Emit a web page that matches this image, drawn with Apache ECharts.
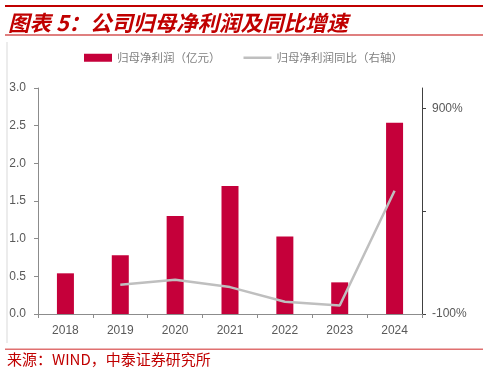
<!DOCTYPE html>
<html>
<head>
<meta charset="utf-8">
<script src="https://cdn.jsdelivr.net/npm/echarts@6/dist/echarts.min.js"></script>
<style>
html,body{margin:0;padding:0;background:#fff;}
#chart{width:488px;height:373px;}
</style>
</head>
<body>
<div id="chart"></div>
<script>
const categories = ['2018','2019','2020','2021','2022','2023','2024'];
const profit = [0.54, 0.78, 1.30, 1.70, 1.03, 0.42, 2.54];
const profitYoY = ['-', 42, 67, 31, -40, -59, 500];
const rightTicks = [-100, 400, 900];
const rightLabels = [-100, 900];
const seriesNames = ['归母净利润（亿元）', '归母净利润同比（右轴）'];
const titleText = '图表 5：公司归母净利润及同比增速';
const sourceText = '来源：WIND，中泰证券研究所';

const chart = echarts.init(document.getElementById('chart'));
const labelFont = 'Liberation Sans, Arial, sans-serif';
const cjkFont = 'Noto Sans CJK SC, sans-serif';

chart.setOption({
  animation: false,
  backgroundColor: '#fff',
  grid: { left: 38, right: 66, top: 88, bottom: 59, containLabel: false },
  legend: {
    left: 79, top: 47,
    itemWidth: 28, itemHeight: 8, itemGap: 23,
    textStyle: { color: '#808080', fontSize: 11.5, fontFamily: cjkFont },
    data: [
      { name: seriesNames[0], icon: 'rect' },
      { name: seriesNames[1], icon: 'path://M0,0 L28,0 L28,2.5 L0,2.5 Z', itemStyle: { color: '#BFBFBF' } }
    ]
  },
  xAxis: {
    type: 'category',
    data: categories,
    axisLine: { lineStyle: { color: '#8c8c8c', width: 1 } },
    axisTick: { show: true, length: 4, lineStyle: { color: '#8c8c8c' } },
    axisLabel: { color: '#595959', fontSize: 12, fontFamily: labelFont, margin: 11 }
  },
  yAxis: [
    {
      type: 'value', min: 0, max: 3, interval: 0.5,
      axisLine: { show: true, lineStyle: { color: '#8c8c8c' } },
      axisTick: { show: true, length: 4, lineStyle: { color: '#8c8c8c' } },
      axisLabel: { color: '#595959', fontSize: 12, fontFamily: labelFont, margin: 12,
        formatter: v => v.toFixed(1) },
      splitLine: { show: false }
    },
    {
      type: 'value', min: -100, max: 1000, position: 'right',
      axisLine: { show: true, lineStyle: { color: '#404040' } },
      axisTick: { show: true, length: 4, customValues: rightTicks, lineStyle: { color: '#404040' } },
      axisLabel: { color: '#595959', fontSize: 12, fontFamily: labelFont, margin: 10,
        customValues: rightLabels, formatter: v => v + '%' },
      splitLine: { show: false }
    }
  ],
  series: [
    {
      name: seriesNames[0], type: 'bar', data: profit, barWidth: 17,
      itemStyle: { color: '#C5003A' }
    },
    {
      name: seriesNames[1], type: 'line', yAxisIndex: 1, data: profitYoY,
      symbol: 'none', smooth: false,
      lineStyle: { color: '#BFBFBF', width: 2.5 },
      itemStyle: { color: '#BFBFBF' }
    }
  ],
  graphic: [
    { type: 'rect', shape: { x: 5, y: 5, width: 478, height: 2 }, style: { fill: '#C00000' } },
    { type: 'text', left: 8, top: 12, style: { text: titleText, fill: '#C00000',
        font: 'italic bold 21.5px ' + cjkFont } },
    { type: 'rect', shape: { x: 5, y: 34.5, width: 478, height: 1 }, style: { fill: '#C00000' } },
    { type: 'rect', shape: { x: 6.5, y: 42, width: 1, height: 301 }, style: { fill: '#D9D9D9' } },
    { type: 'rect', shape: { x: 5, y: 348.5, width: 478, height: 1.5 }, style: { fill: '#E07070' } },
    { type: 'text', left: 7, top: 352, style: { text: sourceText, fill: '#C00000',
        font: '15px ' + cjkFont } }
  ]
});
</script>
</body>
</html>
